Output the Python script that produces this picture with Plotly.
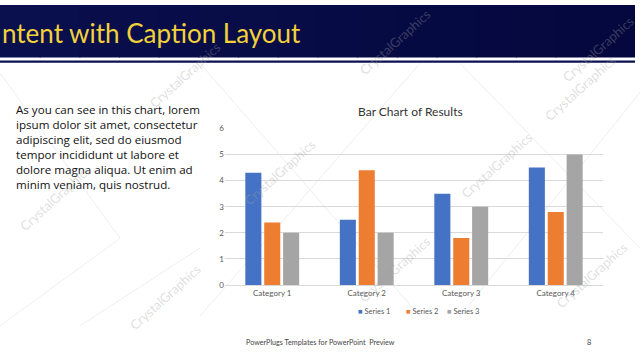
import plotly.graph_objects as go

categories = ["Category 1", "Category 2", "Category 3", "Category 4"]
series_names = ["Series 1", "Series 2", "Series 3"]
series1 = [4.3, 2.5, 3.5, 4.5]
series2 = [2.4, 4.4, 1.8, 2.8]
series3 = [2, 2, 3, 5]
colors = ["#4472C4", "#ED7D31", "#A5A5A5"]
y_ticks = [0, 1, 2, 3, 4, 5, 6]
caption_lines = ["As you can see in this chart, lorem", "ipsum dolor sit amet, consectetur",
                 "adipiscing elit, sed do eiusmod", "tempor incididunt ut labore et",
                 "dolore magna aliqua. Ut enim ad", "minim veniam, quis nostrud."]

W, H = 640, 360
FONT = "Lato, Open Sans, sans-serif"
def px(x):
    return x / W
def py(y):
    return 1 - y / H

fig = go.Figure()
for name, vals, c in zip(series_names, [series1, series2, series3], colors):
    fig.add_trace(go.Bar(x=categories, y=vals, name=name, marker=dict(color=c, line=dict(width=0)),
                         showlegend=False))

shapes = []
n = 16
hx1 = 635
for i in range(n):
    t = i / (n - 1)
    r = int(10 + (5 - 10) * t)
    g = int(16 + (8 - 16) * t)
    b = int(78 + (62 - 78) * t)
    shapes.append(dict(type="rect", xref="paper", yref="paper", x0=px(hx1 * i / n),
                       x1=px(min(hx1, hx1 * (i + 1) / n + 1)),
                       y0=py(54), y1=1, fillcolor=f"rgb({r},{g},{b})", line=dict(width=0), layer="below"))
shapes.append(dict(type="rect", xref="paper", yref="paper", x0=0, x1=px(hx1), y0=py(59.5), y1=py(57),
                   fillcolor="#0B1150", line=dict(width=0), layer="below"))

lines = [((0, 70), (120, 240)), ((120, 240), (0, 330)), ((200, 60), (420, 320)), ((420, 60), (200, 320)),
         ((460, 60), (640, 250)), ((640, 90), (460, 320)), ((80, 330), (200, 250))]
for (x0, y0), (x1, y1) in lines:
    shapes.append(dict(type="line", xref="paper", yref="paper", x0=px(x0), y0=py(y0), x1=px(x1), y1=py(y1),
                       line=dict(color="#EEEEEE", width=1), layer="below"))

annotations = []
annotations.append(dict(text="ntent with Caption Layout", x=px(0), y=py(29), xref="paper", yref="paper",
                        xanchor="left", yanchor="middle", showarrow=False,
                        font=dict(family=FONT, size=26, color="#F2D13A")))
annotations.append(dict(text="<br>".join(caption_lines), x=px(14), y=py(98), xref="paper", yref="paper",
                        xanchor="left", yanchor="top", align="left", showarrow=False,
                        font=dict(family="Open Sans, sans-serif", size=11.6, color="#111111")))
annotations.append(dict(text="Bar Chart of Results", x=px(410), y=py(110), xref="paper", yref="paper",
                        xanchor="center", yanchor="middle", showarrow=False,
                        font=dict(family=FONT, size=12, color="#333333")))
leg_x = [356, 404, 445]
for name, c, lx in zip(series_names, colors, leg_x):
    annotations.append(dict(text=f"<span style='color:{c}'>■</span> {name}", x=px(lx), y=py(315),
                            xref="paper", yref="paper", xanchor="left", yanchor="middle", showarrow=False,
                            font=dict(family=FONT, size=7.5, color="#595959")))
annotations.append(dict(text="PowerPlugs Templates for PowerPoint  Preview", x=px(244), y=py(347), xref="paper",
                        yref="paper", xanchor="left", yanchor="middle", showarrow=False,
                        font=dict(family=FONT, size=7.2, color="#444444")))
annotations.append(dict(text="8", x=px(589), y=py(347), xref="paper", yref="paper", xanchor="center",
                        yanchor="middle", showarrow=False,
                        font=dict(family=FONT, size=7.5, color="#444444")))
wm = [(185, 72), (395, 38), (580, 85), (55, 198), (280, 172), (497, 165), (395, 272), (592, 278), (165, 300),
      (598, 45)]
for x, y in wm:
    annotations.append(dict(text="CrystalGraphics", x=px(x), y=py(y), xref="paper", yref="paper",
                            xanchor="center", yanchor="middle", showarrow=False, textangle=-42,
                            font=dict(family=FONT, size=13, color="rgba(160,160,160,0.35)")))

fig.update_layout(
    width=W, height=H, autosize=False,
    margin=dict(l=0, r=0, t=0, b=0),
    paper_bgcolor="white", plot_bgcolor="rgba(0,0,0,0)",
    barmode="group", bargap=0.4, bargroupgap=0.15,
    shapes=shapes, annotations=annotations,
    showlegend=False,
    xaxis=dict(domain=[px(225), px(603)], showgrid=False, showline=True, linecolor="#D9D9D9",
               tickfont=dict(family=FONT, size=8, color="#595959"), ticks=""),
    yaxis=dict(domain=[py(288), py(127)], range=[0, 6], tickvals=y_ticks, showgrid=True,
               gridcolor="#D9D9D9", gridwidth=1, zeroline=False, showline=False,
               tickfont=dict(family=FONT, size=8, color="#595959"), ticks=""),
)
fig.write_html("out.html", config={"displayModeBar": False},
               post_script="document.body.style.margin='0';document.body.style.padding='0';")
